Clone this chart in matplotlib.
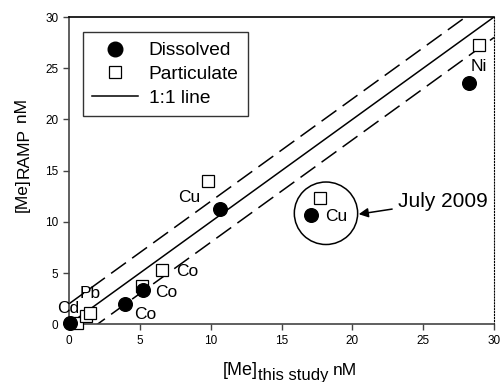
import matplotlib
matplotlib.use("Agg")
import matplotlib.pyplot as plt
from matplotlib.patches import Ellipse
from matplotlib.lines import Line2D

plt.rcParams['font.family'] = ['Liberation Sans', 'DejaVu Sans']

# Data
dissolved_x = [0.1, 3.95, 5.25, 10.66, 17.08, 28.23]
dissolved_y = [0.1, 1.95, 3.35, 11.26, 10.64, 23.6]
particulate_x = [0.54, 1.2, 1.48, 5.13, 6.54, 9.83, 17.7, 28.96]
particulate_y = [0.1, 0.8, 1.13, 3.77, 5.3, 14.02, 12.36, 27.27]
line_x = [0, 30]
offset = 2
labels = ['Ni', 'Cu', 'Cu', 'Co', 'Co', 'Co', 'Pb', 'Cd']
label_x = [28.91, 8.49, 18.89, 8.38, 6.89, 5.41, 1.48, -0.05]
label_y = [25.16, 12.36, 10.51, 5.14, 3.13, 1.0, 3.03, 1.56]
ticks = [0, 5, 10, 15, 20, 25, 30]

W, H = 501, 382
fig = plt.figure(figsize=(W / 100, H / 100), dpi=100)
ax = fig.add_axes([69 / W, 1 - 324.3 / H, (494 - 69) / W, (324.3 - 17) / H])

lx = [line_x[0], line_x[1]]
ax.plot(lx, [v for v in lx], color='black', lw=1.1, zorder=2)
ax.plot(lx, [v + offset for v in lx], color='black', lw=1.1, dashes=(12, 5), zorder=2)
ax.plot(lx, [v - offset for v in lx], color='black', lw=1.1, dashes=(12, 5), zorder=2)

ax.plot(particulate_x, particulate_y, 's', ms=8.5, mfc='white', mec='black', mew=0.9,
        clip_on=False, zorder=3)
ax.plot(dissolved_x, dissolved_y, 'o', ms=9.8, mfc='black', mec='black',
        clip_on=False, zorder=4)

for t, x, y in zip(labels, label_x, label_y):
    ax.text(x, y, t, ha='center', va='center', fontsize=12.5, zorder=5)

ax.add_patch(Ellipse((18.14, 10.84), 4.47, 6.1, fill=False, ec='black', lw=1.1, zorder=2))
ax.annotate('July 2009', xy=(20.45, 10.75), xytext=(23.2, 12.0), fontsize=15,
            ha='left', va='center',
            arrowprops=dict(arrowstyle='-|>', color='black', lw=1.1,
                            mutation_scale=14, shrinkA=2, shrinkB=0))

ax.set_xlim(0, 30)
ax.set_ylim(0, 30)
ax.set_xticks(ticks)
ax.set_yticks(ticks)
ax.tick_params(direction='out', length=4, width=1, labelsize=8.5, color='#444444',
               top=False, right=False)
for s in ['left', 'bottom']:
    ax.spines[s].set_color('#444444')
    ax.spines[s].set_linewidth(1.2)
ax.spines['top'].set_linewidth(1.2)
ax.spines['right'].set_linestyle(':')
ax.spines['right'].set_linewidth(0.8)

handles = [
    Line2D([], [], marker='o', ls='none', ms=10.5, mfc='black', mec='black'),
    Line2D([], [], marker='s', ls='none', ms=9, mfc='white', mec='black', mew=0.9),
    Line2D([], [], color='black', lw=1.1),
]
leg = ax.legend(handles, ['Dissolved', 'Particulate', '1:1 line'], loc='upper left',
                bbox_to_anchor=((82.7 - 69) / 425, 1 - (32.3 - 17) / 307.3),
                fontsize=13.8, frameon=True, fancybox=False, edgecolor='black',
                handlelength=2.4, handletextpad=0.55, borderpad=0.5, labelspacing=0.33,
                borderaxespad=0)
leg.get_frame().set_linewidth(1.0)

# Axis labels built from pieces (subscripted middle part)
fig.canvas.draw()
renderer = fig.canvas.get_renderer()


def place_h(pieces, x0, fs):
    x = x0
    for txt, base, size in pieces:
        t = fig.text(x / W, 1 - base / H, txt, ha='left', va='baseline', fontsize=size)
        bb = t.get_window_extent(renderer)
        x += bb.width
    return x


place_h([('[Me]', 375, 13), ('this study ', 380, 12), ('nM', 375, 12.5)], 223, 13)


def place_v(pieces, y0):
    y = y0
    for txt, base, size in pieces:
        t = fig.text(base / W, 1 - y / H, txt, ha='left', va='baseline', fontsize=size,
                     rotation=90, rotation_mode='anchor')
        bb = t.get_window_extent(renderer)
        y -= bb.height
    return y


place_v([('[Me]', 27, 12.5), ('RAMP', 29, 12.5), (' nM', 27, 12.5)], 212)

fig.savefig('out.png', dpi=100)
